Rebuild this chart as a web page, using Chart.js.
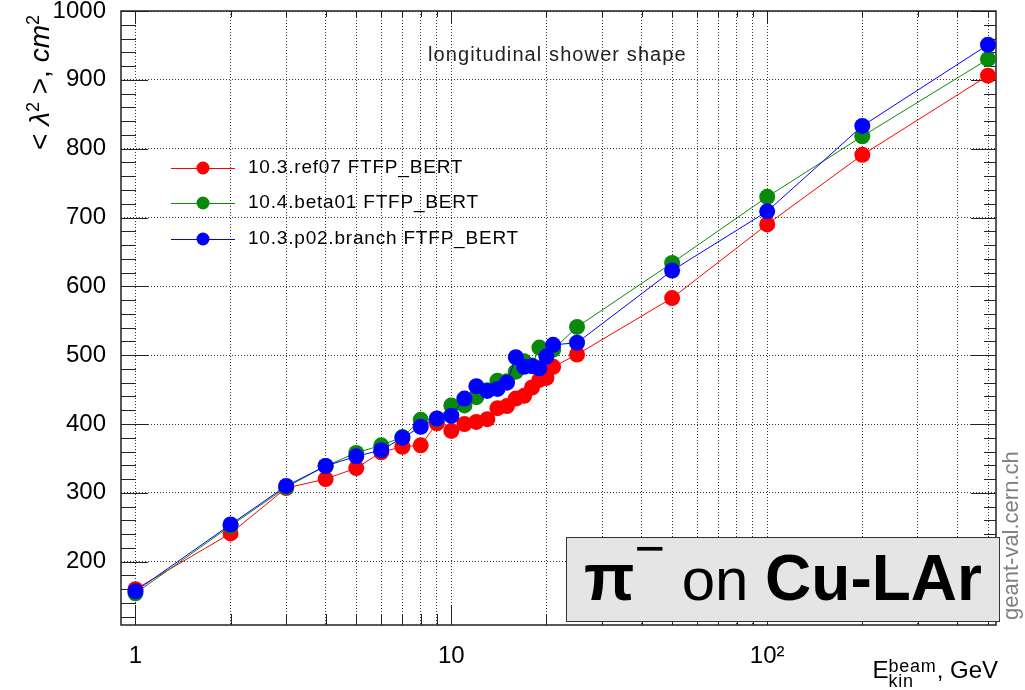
<!DOCTYPE html>
<html><head><meta charset="utf-8">
<script src="https://cdn.jsdelivr.net/npm/chart.js@4.4.1/dist/chart.umd.min.js"></script>
<style>
html,body{margin:0;padding:0;background:#fff;}
#wrap{position:relative;width:1025px;height:690px;overflow:hidden;font-family:"Liberation Sans",Arial,Helvetica,sans-serif;}
canvas{position:absolute;left:0;top:0;}
.t{position:absolute;white-space:nowrap;color:#000;}
</style></head><body>
<div id="wrap">
<canvas id="c" width="1025" height="690"></canvas>
<div class="t" style="left:428px;top:43px;font-size:20px;line-height:22px;letter-spacing:1.1px;color:#222;">longitudinal shower shape</div>
<div id="legend"></div>
<div class="t" style="left:17px;top:315px;width:300px;text-align:right;font-size:28px;line-height:32px;transform:rotate(-90deg);transform-origin:left top;">&lt; <i>λ</i><sup style="font-size:18px">2</sup> &gt;, <i>cm</i><sup style="font-size:18px">2</sup></div>
<div class="t" style="left:999px;top:620px;font-size:22px;line-height:24px;color:#808080;transform:rotate(-90deg);transform-origin:left top;">geant-val.cern.ch</div>
<div class="t" style="right:27px;top:655px;font-size:24px;line-height:30px;">E<span style="display:inline-block;vertical-align:-9px;font-size:18px;line-height:15px;letter-spacing:0.8px;text-align:left;">beam<br>kin</span>, GeV</div>
<div style="position:absolute;left:566px;top:537px;width:434px;height:85px;box-sizing:border-box;background:#e5e5e5;border:1.5px solid #333;display:flex;align-items:center;justify-content:center;white-space:nowrap;font-size:60px;line-height:70px;color:#000;">
<span><b style="font-size:66px">π</b><span style="position:relative;top:-34px;font-size:52px;">−</span> on <b style="font-size:64px">Cu-LAr</b></span></div>
</div>
<script>
const energies   = [1, 2, 3, 4, 5, 6, 7, 8, 9, 10, 11, 12, 13, 14, 15, 16, 17, 18, 19, 20, 21, 25, 50, 100, 200, 500];
const ref07      = [160, 241, 307, 320, 336, 359, 367, 369, 401, 390, 400, 403, 407, 423, 426, 437, 441, 453, 464, 467, 483, 501, 583, 690, 791, 906];
const beta01     = [154, 252, 308, 339, 358, 369, 381, 406, 407, 427, 427, 439, 449, 463, 462, 476, 491, 485, 511, 502, 508, 541, 634, 730, 818, 930];
const p02branch  = [157, 254, 310, 339, 353, 362, 380, 396, 408, 412, 437, 455, 448, 451, 460, 497, 483, 484, 481, 498, 515, 518, 623, 709, 833, 951];
const seriesNames  = ['10.3.ref07 FTFP_BERT', '10.4.beta01 FTFP_BERT', '10.3.p02.branch FTFP_BERT'];
const seriesColors = ['#ff0000', '#0a8a0a', '#0000ff'];
const xTickValues = [1,2,3,4,5,6,7,8,9,10,20,30,40,50,60,70,80,90,100,200,300,400,500];
const xMajor = [1, 10, 100];
const xTickLabels = {1: '1', 10: '10', 100: '10²'};
const yTickValues = [200, 300, 400, 500, 600, 700, 800, 900, 1000];

const FONT = '"Liberation Sans", Arial, Helvetica, sans-serif';
const legendRows = [168, 203, 239];

const lg = document.getElementById('legend');
seriesNames.forEach((n, i) => {
  const d = document.createElement('div');
  d.className = 't';
  d.style.cssText = `left:248px;top:${legendRows[i]-12}px;font-size:19px;line-height:22px;letter-spacing:0.8px;`;
  d.textContent = n;
  lg.appendChild(d);
});

const frame = {
  id: 'frame',
  beforeDatasetsDraw(chart) {
    const {ctx, chartArea: a, scales: {x, y}} = chart;
    ctx.save();
    ctx.strokeStyle = '#222';
    ctx.lineWidth = 1;
    ctx.beginPath();
    xTickValues.forEach(v => {
      const px = Math.round(x.getPixelForValue(v)) + 0.5;
      const major = xMajor.includes(v);
      ctx.moveTo(px, a.bottom); ctx.lineTo(px, a.bottom - (major ? 20 : 11));
      ctx.moveTo(px, a.top); ctx.lineTo(px, a.top + (major ? 12 : 6));
    });
    for (let v = 120; v <= 1000; v += 20) {
      const py = Math.round(y.getPixelForValue(v)) + 0.5;
      const major = v % 100 === 0;
      ctx.moveTo(a.left, py); ctx.lineTo(a.left + (major ? 27 : 15), py);
      ctx.moveTo(a.right, py); ctx.lineTo(a.right - (major ? 25 : 12), py);
    }
    ctx.stroke();
    ctx.lineWidth = 1.5;
    ctx.strokeRect(a.left, a.top, a.right - a.left, a.bottom - a.top);
    ctx.restore();
  },
  afterDraw(chart) {
    const ctx = chart.ctx;
    ctx.save();
    legendRows.forEach((ry, i) => {
      ctx.strokeStyle = seriesColors[i];
      ctx.lineWidth = 1;
      ctx.beginPath(); ctx.moveTo(171, ry + 0.5); ctx.lineTo(235, ry + 0.5); ctx.stroke();
      ctx.fillStyle = seriesColors[i];
      ctx.beginPath(); ctx.arc(203, ry, 6.5, 0, Math.PI * 2); ctx.fill();
    });
    ctx.restore();
  }
};

const series = [ref07, beta01, p02branch];
const datasets = series.map((vals, i) => ({
  label: seriesNames[i],
  data: energies.map((e, k) => ({x: e, y: vals[k]})),
  borderColor: seriesColors[i],
  backgroundColor: seriesColors[i],
  pointBackgroundColor: seriesColors[i],
  pointBorderWidth: 0,
  pointRadius: 8,
  pointHoverRadius: 8,
  borderWidth: 1,
  tension: 0,
  order: 2 - i,
  clip: false
}));

new Chart(document.getElementById('c'), {
  type: 'line',
  data: {datasets},
  options: {
    responsive: false, animation: false, devicePixelRatio: 1,
    layout: {padding: {left: 0, right: 29, top: 11, bottom: 0}},
    plugins: {legend: {display: false}, tooltip: {enabled: false}},
    scales: {
      x: {
        type: 'logarithmic', min: 0.9, max: 530,
        afterBuildTicks(s) { s.ticks = xTickValues.map(v => ({value: v})); },
        afterFit(s) { s.height = 65; },
        ticks: {autoSkip: false, maxRotation: 0, minRotation: 0, padding: 17, color: '#000',
                font: {family: FONT, size: 24}, callback: (v) => xTickLabels[v] || ''},
        grid: {color: 'rgba(0,0,0,0.8)', lineWidth: 1, drawTicks: false},
        border: {display: false, dash: [1, 2]}
      },
      y: {
        type: 'linear', min: 108, max: 1000,
        afterBuildTicks(s) { s.ticks = yTickValues.map(v => ({value: v})); },
        afterFit(s) { s.width = 121; },
        ticks: {padding: 0, color: '#000', font: {family: FONT, size: 24, lineHeight: 0.4},
                callback: (v) => String(v)},
        grid: {color: 'rgba(0,0,0,0.8)', lineWidth: 1, drawTicks: true, tickLength: 15, tickColor: 'rgba(0,0,0,0)'},
        border: {display: false, dash: [1, 2]}
      }
    }
  },
  plugins: [frame]
});
</script>
</body></html>
